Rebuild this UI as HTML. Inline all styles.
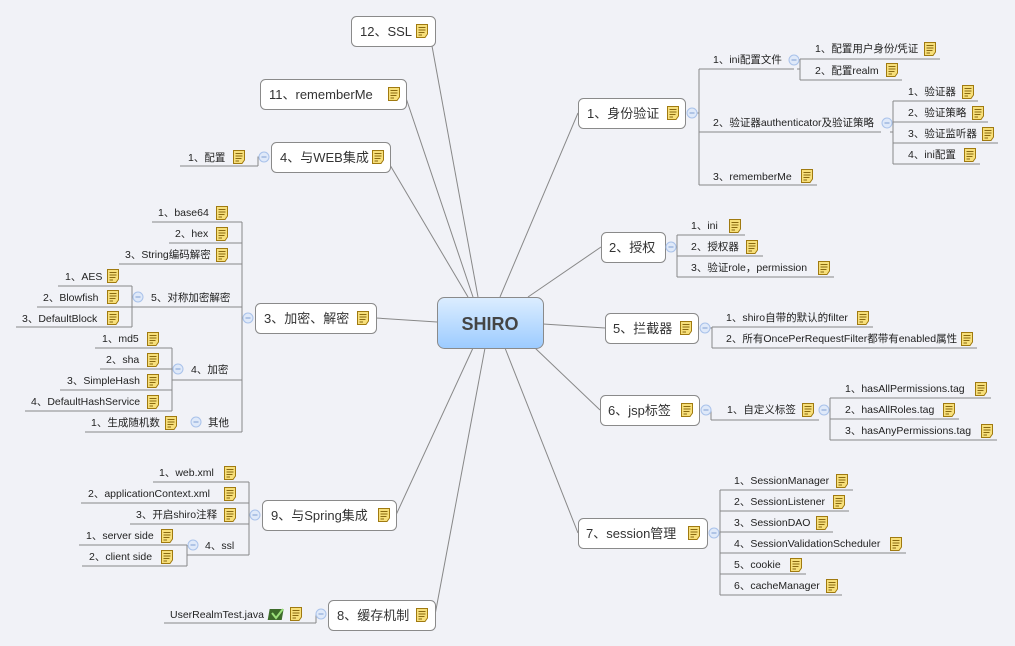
<!DOCTYPE html>
<html><head><meta charset="utf-8"><style>
html,body{margin:0;padding:0;background:#f1f2f7;}
svg{display:block;font-family:"Liberation Sans","Noto Sans CJK SC",sans-serif;}
.m{font-size:13px;fill:#333;}
.c{font-size:10.5px;fill:#222;}
.l{stroke:#888;stroke-width:1;fill:none;}
.b{fill:#fff;stroke:#8a8a8a;stroke-width:1;}
</style></head><body>
<svg width="1015" height="646" viewBox="0 0 1015 646">
<defs>
<symbol id="n" viewBox="0 0 12 14"><path d="M0.5 0.5H11.5V10L9 13.5H0.5Z" fill="#f7df7a" stroke="#a07a10"/><path d="M2.5 3.5H9.5M2.5 6H9.5M2.5 8.5H8.5M2.5 11H6" stroke="#8a6a10" stroke-width="1"/></symbol>
<symbol id="o" viewBox="0 0 12 12"><circle cx="6" cy="6" r="5" fill="#dfe9f9" stroke="#a9c2ea"/><path d="M3.5 6H8.5" stroke="#7f9fd2"/></symbol>
<linearGradient id="g" x1="0" y1="0" x2="0" y2="1"><stop offset="0" stop-color="#dcedff"/><stop offset="1" stop-color="#9ccbff"/></linearGradient>
</defs>

<g class="l" stroke="#999">
<path d="M478 297L432 46"/><path d="M473 297L405 95"/><path d="M468 297L390 165"/>
<path d="M437 322L376 318"/><path d="M473 348L396 515"/><path d="M485 348L435 615"/>
<path d="M500 297L578 113"/><path d="M528 297L601 247"/><path d="M543 324L605 328"/>
<path d="M535 348L600 410"/><path d="M505 348L578 533"/>
</g>

<rect x="437.5" y="297.5" width="106" height="51" rx="7" fill="url(#g)" stroke="#8a8a8a"/>
<text x="490" y="330" text-anchor="middle" font-size="18" font-weight="bold" fill="#444">SHIRO</text>

<rect class="b" x="351.5" y="16.5" width="84" height="30" rx="5"/><text class="m" x="360" y="36">12、SSL</text><use href="#n" x="416" y="24" width="12" height="14"/>
<rect class="b" x="260.5" y="79.5" width="146" height="30" rx="5"/><text class="m" x="269" y="99">11、rememberMe</text><use href="#n" x="388" y="87" width="12" height="14"/>
<rect class="b" x="271.5" y="142.5" width="119" height="30" rx="5"/><text class="m" x="280" y="162">4、与WEB集成</text><use href="#n" x="372" y="150" width="12" height="14"/>
<rect class="b" x="255.5" y="303.5" width="121" height="30" rx="5"/><text class="m" x="264" y="323">3、加密、解密</text><use href="#n" x="357" y="311" width="12" height="14"/>
<rect class="b" x="262.5" y="500.5" width="134" height="30" rx="5"/><text class="m" x="271" y="520">9、与Spring集成</text><use href="#n" x="378" y="508" width="12" height="14"/>
<rect class="b" x="328.5" y="600.5" width="107" height="30" rx="5"/><text class="m" x="337" y="620">8、缓存机制</text><use href="#n" x="416" y="608" width="12" height="14"/>
<rect class="b" x="578.5" y="98.5" width="107" height="30" rx="5"/><text class="m" x="587" y="118">1、身份验证</text><use href="#n" x="667" y="106" width="12" height="14"/>
<rect class="b" x="601.5" y="232.5" width="64" height="30" rx="5"/><text class="m" x="609" y="252">2、授权</text>
<rect class="b" x="605.5" y="313.5" width="93" height="30" rx="5"/><text class="m" x="613" y="333">5、拦截器</text><use href="#n" x="680" y="321" width="12" height="14"/>
<rect class="b" x="600.5" y="395.5" width="99" height="30" rx="5"/><text class="m" x="608" y="415">6、jsp标签</text><use href="#n" x="681" y="403" width="12" height="14"/>
<rect class="b" x="578.5" y="518.5" width="129" height="30" rx="5"/><text class="m" x="586" y="538">7、session管理</text><use href="#n" x="688" y="526" width="12" height="14"/>

<g class="l">
<path d="M697 113H699M699 69V185M699 69H794M699 132H881M699 185H817"/>
<path d="M800 80V59M800 59H940M800 80H902M800 69H797"/>
<path d="M893 101V164M893 101H978M893 122H988M893 143H998M893 164H980M890 132H893"/>
<path d="M676 247H677M677 235V277M677 235H745M677 256H763M677 277H834"/>
<path d="M710 328H712M712 327V348M712 327H873M712 348H977"/>
<path d="M711 410V420M711 420H819M830 398V440M830 398H991M830 419H959M830 440H997M829 410H830"/>
<path d="M719 533H720M720 490V595M720 490H853M720 511H849M720 532H833M720 553H906M720 574H806M720 595H842"/>
<path d="M259 157H258V166M258 166H180"/>
<path d="M243 318H242M242 222V432M242 222H152M242 243H169M242 264H119M242 307H132M242 380H172M242 432H190"/>
<path d="M132 286V327M132 286H58M132 307H37M132 327H16"/>
<path d="M172 348V411M172 348H95M172 369H100M172 390H60M172 411H25"/>
<path d="M190 432H85"/>
<path d="M250 515H249M249 482V555M249 482H153M249 503H81M249 524H130M249 555H187"/>
<path d="M187 545V566M187 545H79M187 566H82"/>
<path d="M316 614V623M316 623H164"/>
</g>

<use href="#o" x="686" y="107" width="12" height="12"/>
<use href="#o" x="788" y="54" width="12" height="12"/>
<use href="#o" x="881" y="117" width="12" height="12"/>
<use href="#o" x="665" y="241" width="12" height="12"/>
<use href="#o" x="699" y="322" width="12" height="12"/>
<use href="#o" x="700" y="404" width="12" height="12"/>
<use href="#o" x="818" y="404" width="12" height="12"/>
<use href="#o" x="708" y="527" width="12" height="12"/>
<use href="#o" x="258" y="151" width="12" height="12"/>
<use href="#o" x="242" y="312" width="12" height="12"/>
<use href="#o" x="132" y="291" width="12" height="12"/>
<use href="#o" x="172" y="363" width="12" height="12"/>
<use href="#o" x="190" y="416" width="12" height="12"/>
<use href="#o" x="249" y="509" width="12" height="12"/>
<use href="#o" x="187" y="539" width="12" height="12"/>
<use href="#o" x="315" y="608" width="12" height="12"/>

<g class="c">
<text x="713" y="63">1、ini配置文件</text>
<text x="815" y="52">1、配置用户身份/凭证</text><use href="#n" x="924" y="42" width="12" height="14"/>
<text x="815" y="74">2、配置realm</text><use href="#n" x="886" y="63" width="12" height="14"/>
<text x="713" y="126">2、验证器authenticator及验证策略</text>
<text x="908" y="95">1、验证器</text><use href="#n" x="962" y="85" width="12" height="14"/>
<text x="908" y="116">2、验证策略</text><use href="#n" x="972" y="106" width="12" height="14"/>
<text x="908" y="137">3、验证监听器</text><use href="#n" x="982" y="127" width="12" height="14"/>
<text x="908" y="158">4、ini配置</text><use href="#n" x="964" y="148" width="12" height="14"/>
<text x="713" y="180">3、rememberMe</text><use href="#n" x="801" y="169" width="12" height="14"/>

<text x="691" y="229">1、ini</text><use href="#n" x="729" y="219" width="12" height="14"/>
<text x="691" y="250">2、授权器</text><use href="#n" x="746" y="240" width="12" height="14"/>
<text x="691" y="271">3、验证role，permission</text><use href="#n" x="818" y="261" width="12" height="14"/>

<text x="726" y="321">1、shiro自带的默认的filter</text><use href="#n" x="857" y="311" width="12" height="14"/>
<text x="726" y="342">2、所有OncePerRequestFilter都带有enabled属性</text><use href="#n" x="961" y="332" width="12" height="14"/>

<text x="727" y="413">1、自定义标签</text><use href="#n" x="802" y="403" width="12" height="14"/>
<text x="845" y="392">1、hasAllPermissions.tag</text><use href="#n" x="975" y="382" width="12" height="14"/>
<text x="845" y="413">2、hasAllRoles.tag</text><use href="#n" x="943" y="403" width="12" height="14"/>
<text x="845" y="434">3、hasAnyPermissions.tag</text><use href="#n" x="981" y="424" width="12" height="14"/>

<text x="734" y="484">1、SessionManager</text><use href="#n" x="836" y="474" width="12" height="14"/>
<text x="734" y="505">2、SessionListener</text><use href="#n" x="833" y="495" width="12" height="14"/>
<text x="734" y="526">3、SessionDAO</text><use href="#n" x="816" y="516" width="12" height="14"/>
<text x="734" y="547">4、SessionValidationScheduler</text><use href="#n" x="890" y="537" width="12" height="14"/>
<text x="734" y="568">5、cookie</text><use href="#n" x="790" y="558" width="12" height="14"/>
<text x="734" y="589">6、cacheManager</text><use href="#n" x="826" y="579" width="12" height="14"/>
</g>

<g class="c">
<text x="188" y="161">1、配置</text><use href="#n" x="233" y="150" width="12" height="14"/>

<text x="158" y="216">1、base64</text><use href="#n" x="216" y="206" width="12" height="14"/>
<text x="175" y="237">2、hex</text><use href="#n" x="216" y="227" width="12" height="14"/>
<text x="125" y="258">3、String编码解密</text><use href="#n" x="216" y="248" width="12" height="14"/>
<text x="151" y="301">5、对称加密解密</text>
<text x="65" y="280">1、AES</text><use href="#n" x="107" y="269" width="12" height="14"/>
<text x="43" y="301">2、Blowfish</text><use href="#n" x="107" y="290" width="12" height="14"/>
<text x="22" y="322">3、DefaultBlock</text><use href="#n" x="107" y="311" width="12" height="14"/>
<text x="191" y="373">4、加密</text>
<text x="102" y="342">1、md5</text><use href="#n" x="147" y="332" width="12" height="14"/>
<text x="106" y="363">2、sha</text><use href="#n" x="147" y="353" width="12" height="14"/>
<text x="67" y="384">3、SimpleHash</text><use href="#n" x="147" y="374" width="12" height="14"/>
<text x="31" y="405">4、DefaultHashService</text><use href="#n" x="147" y="395" width="12" height="14"/>
<text x="208" y="426">其他</text>
<text x="91" y="426">1、生成随机数</text><use href="#n" x="165" y="416" width="12" height="14"/>

<text x="159" y="476">1、web.xml</text><use href="#n" x="224" y="466" width="12" height="14"/>
<text x="88" y="497">2、applicationContext.xml</text><use href="#n" x="224" y="487" width="12" height="14"/>
<text x="136" y="518">3、开启shiro注释</text><use href="#n" x="224" y="508" width="12" height="14"/>
<text x="205" y="549">4、ssl</text>
<text x="86" y="539">1、server side</text><use href="#n" x="161" y="529" width="12" height="14"/>
<text x="89" y="560">2、client side</text><use href="#n" x="161" y="550" width="12" height="14"/>

<text x="170" y="618">UserRealmTest.java</text>
<g transform="translate(270,607)"><rect x="0" y="2" width="14" height="11" fill="#3d6b2a" transform="skewX(-10)"/><path d="M2 6L6 11L13 2" stroke="#9be07a" stroke-width="2" fill="none"/></g>
<use href="#n" x="290" y="607" width="12" height="14"/>
</g>
</svg>
</body></html>
